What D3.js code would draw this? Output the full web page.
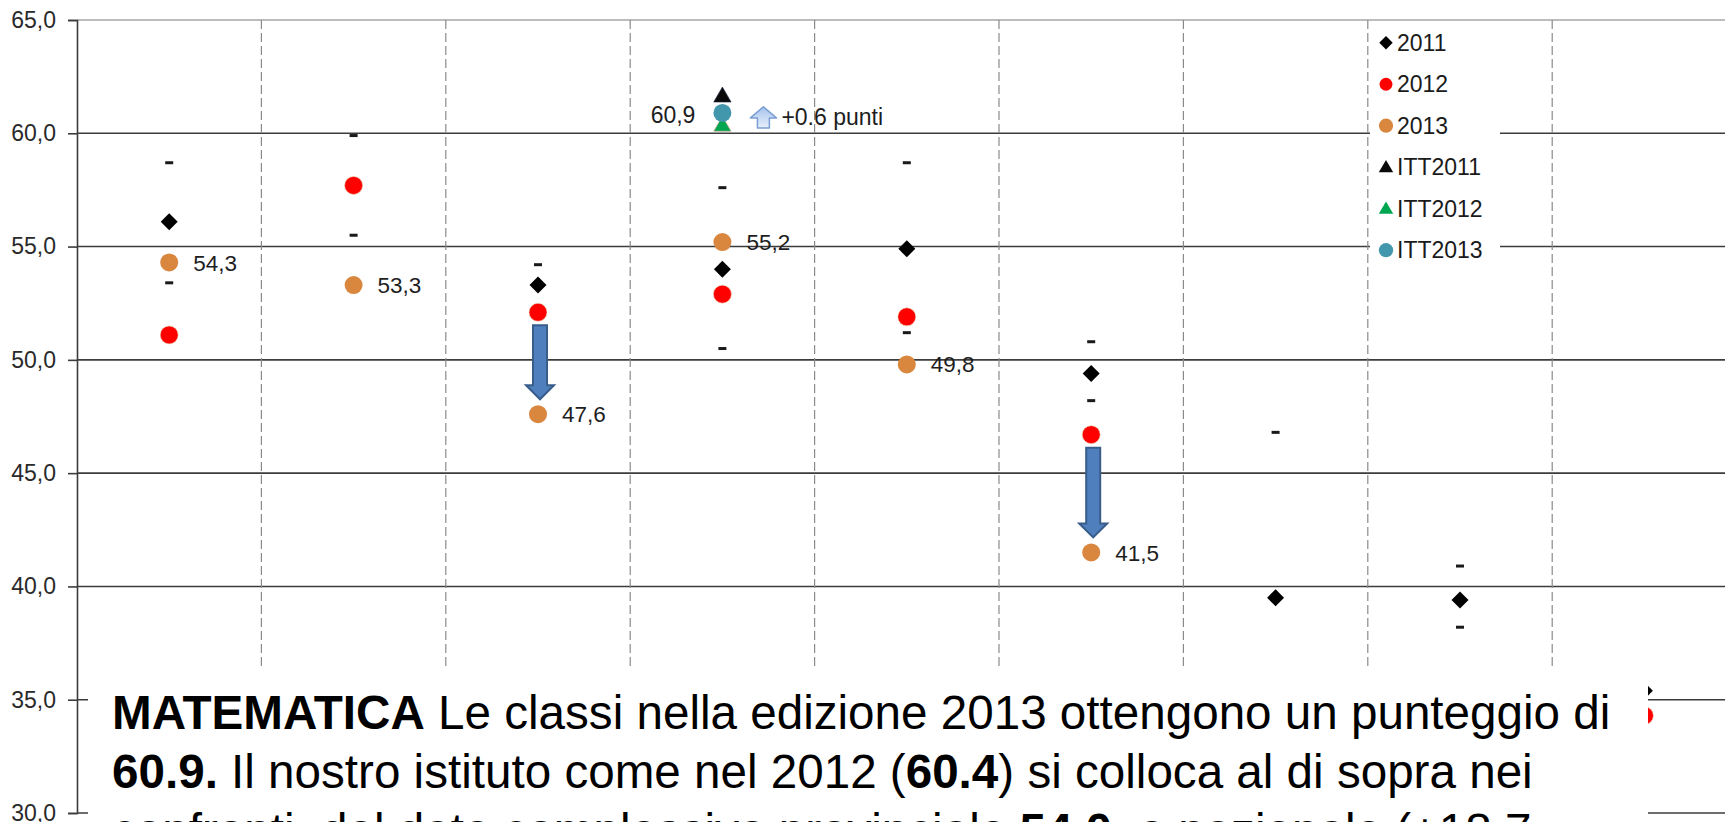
<!DOCTYPE html>
<html><head><meta charset="utf-8">
<script src="https://cdn.jsdelivr.net/npm/d3@7"></script>
<style>
html,body{margin:0;padding:0;background:#fff;}
svg{display:block;font-family:"Liberation Sans",Arial,sans-serif;}
</style></head><body>
<svg id="chart" width="1725" height="822"></svg>
<script>
// ---------- data ----------
const categories = ["1","2","3","4","5","6","7","8","9"];
const s2011   = [56.1, null, 53.3, 54.0, 54.9, 49.4, 39.5, 39.4, 35.4];
const s2012   = [51.1, 57.7, 52.1, 52.9, 51.9, 46.7, null, null, 34.3];
const s2013   = [54.3, 53.3, 47.6, 55.2, 49.8, 41.5, null, null, null];
const upper   = [58.7, 59.9, 54.2, 57.6, 58.7, 50.8, 46.8, 40.9, null];
const lower   = [53.4, 55.5, 52.4, 50.5, 51.2, 48.2, 32.2, 38.2, null];
const itt2011 = [null, null, null, 61.6, null, null, null, null, null];
const itt2012 = [null, null, null, 60.4, null, null, null, null, null];
const itt2013 = [null, null, null, 60.9, null, null, null, null, null];
const yTicks  = [30, 35, 40, 45, 50, 55, 60, 65];
const legendLabels = ["2011", "2012", "2013", "ITT2011", "ITT2012", "ITT2013"];
const dropCats = ["3", "6"];          // categories with a drop 2012 -> 2013
const gainCat = "4";                  // ITT category with gain
const gainText = "+0.6 punti";
const noteLines = [
  [{t:"MATEMATICA", b:true}, {t:" Le classi nella edizione 2013 ottengono un punteggio di", b:false}],
  [{t:"60.9.", b:true}, {t:" Il nostro istituto come nel 2012 (", b:false}, {t:"60.4", b:true}, {t:") si colloca al di sopra nei", b:false}],
  [{t:"confronti  del dato complessivo provinciale ", b:false}, {t:"54.0", b:true}, {t:"  e nazionale (+18.7", b:false}]
];

// ---------- styles ----------
const C = {
  s2011:"#000000", s2012:"#ff0000", s2013:"#d9863f",
  itt2011:"#0a0a0a", itt2012:"#00a650", itt2013:"#4397ad",
  grid:"#3c3c3c", dash:"#8a8a8a"
};

const svg = d3.select("#chart");
const W = 1725, H = 822;
const x = d3.scaleBand().domain(categories).range([77, 77 + 9 * 184.4]).padding(0);
const y = d3.scaleLinear().domain([30, 65]).range([813, 20]);
const cx = c => x(c) + x.bandwidth() / 2;
const fmt = v => v.toFixed(1).replace(".", ",");

// horizontal gridlines
svg.append("g").selectAll("line").data(yTicks).join("line")
  .attr("x1", 77).attr("x2", W)
  .attr("y1", d => y(d)).attr("y2", d => y(d))
  .attr("stroke", d => d === 65 ? "#a6a6a6" : C.grid)
  .attr("stroke-width", 1.6);

// vertical dashed separators
svg.append("g").selectAll("line").data(categories.slice(1)).join("line")
  .attr("x1", d => x(d)).attr("x2", d => x(d))
  .attr("y1", y(65)).attr("y2", y(30))
  .attr("stroke", C.dash).attr("stroke-width", 1.2)
  .attr("stroke-dasharray", "9,4");

// y axis
const yAxis = d3.axisLeft(y).tickValues(yTicks).tickSize(9).tickPadding(12).tickFormat(fmt);
const ga = svg.append("g").attr("transform", "translate(77,0)").call(yAxis);
ga.select(".domain").attr("stroke", C.grid).attr("stroke-width", 1.6);
ga.selectAll(".tick line").attr("stroke", C.grid).attr("stroke-width", 1.6);
ga.selectAll(".tick text").attr("font-size", 23).attr("fill", "#2a2a2a")
  .attr("font-family", "'Liberation Sans', Arial, sans-serif");

// helper to gather points
function pts(arr) {
  return categories.map((c, i) => ({c, v: arr[i]})).filter(d => d.v != null);
}
const gm = svg.append("g");

// confidence dashes
[upper, lower].forEach(arr => {
  gm.append("g").selectAll("rect").data(pts(arr)).join("rect")
    .attr("x", d => cx(d.c) - 4).attr("y", d => y(d.v) - 1.5)
    .attr("width", 8).attr("height", 3).attr("fill", "#1a1a1a");
});

const diamond = d3.symbol(d3.symbolSquare, 144)();
const triangle = d3.symbol(d3.symbolTriangle, 130)();

// 2011 diamonds
gm.append("g").selectAll("path").data(pts(s2011)).join("path")
  .attr("d", diamond)
  .attr("transform", d => `translate(${cx(d.c)},${y(d.v)}) rotate(45)`)
  .attr("fill", C.s2011);
// 2012 circles
gm.append("g").selectAll("circle").data(pts(s2012)).join("circle")
  .attr("cx", d => cx(d.c)).attr("cy", d => y(d.v)).attr("r", 9)
  .attr("fill", C.s2012).attr("stroke", "#e8d8b8").attr("stroke-width", 0.6);
// 2013 circles
gm.append("g").selectAll("circle").data(pts(s2013)).join("circle")
  .attr("cx", d => cx(d.c)).attr("cy", d => y(d.v)).attr("r", 9)
  .attr("fill", C.s2013);
// 2013 labels
gm.append("g").selectAll("text").data(pts(s2013)).join("text")
  .attr("x", d => cx(d.c) + 24).attr("y", d => y(d.v)).attr("dy", "0.36em")
  .attr("font-size", 22.5).attr("fill", "#1e1e1e").text(d => fmt(d.v));

// ITT markers
gm.append("g").selectAll("path").data(pts(itt2012)).join("path")
  .attr("d", triangle).attr("transform", d => `translate(${cx(d.c)},${y(d.v) + 2})`)
  .attr("fill", C.itt2012).attr("stroke", "#d8a090").attr("stroke-width", 0.6);
gm.append("g").selectAll("path").data(pts(itt2011)).join("path")
  .attr("d", triangle).attr("transform", d => `translate(${cx(d.c)},${y(d.v)})`)
  .attr("fill", C.itt2011).attr("stroke", "#1f2a4a").attr("stroke-width", 0.6);
gm.append("g").selectAll("circle").data(pts(itt2013)).join("circle")
  .attr("cx", d => cx(d.c)).attr("cy", d => y(d.v)).attr("r", 9)
  .attr("fill", C.itt2013);
gm.append("g").selectAll("text").data(pts(itt2013)).join("text")
  .attr("x", d => cx(d.c) - 27).attr("y", d => y(d.v) + 2).attr("dy", "0.36em")
  .attr("text-anchor", "end").attr("font-size", 23).attr("fill", "#1e1e1e")
  .text(d => fmt(d.v));

// drop arrows (2012 -> 2013)
function downArrow(xc, y0, y1, sw, hw, hh) {
  return `M${xc - sw/2},${y0} L${xc + sw/2},${y0} L${xc + sw/2},${y1 - hh} L${xc + hw/2},${y1 - hh} L${xc},${y1} L${xc - hw/2},${y1 - hh} L${xc - sw/2},${y1 - hh} Z`;
}
gm.append("g").selectAll("path").data(dropCats).join("path")
  .attr("d", c => {
    const i = categories.indexOf(c);
    return downArrow(cx(c) + 2, y(s2012[i]) + 13, y(s2013[i]) - 15, 14, 28, 14);
  })
  .attr("fill", "#4f7fbd").attr("stroke", "#385d8a").attr("stroke-width", 2);

// gain arrow (up) and text
const defs = svg.append("defs");
const lg = defs.append("linearGradient").attr("id", "upg").attr("x1", 0).attr("y1", 0).attr("x2", 0).attr("y2", 1);
lg.append("stop").attr("offset", "0%").attr("stop-color", "#a9c5ee");
lg.append("stop").attr("offset", "100%").attr("stop-color", "#e6eefb");
{
  const gi = categories.indexOf(gainCat);
  const xc = cx(gainCat) + 41, yt = y(itt2013[gi]) - 6, yb = y(itt2013[gi]) + 15;
  const sw = 12, hw = 26, hh = 11;
  const p = `M${xc},${yt} L${xc + hw/2},${yt + hh} L${xc + sw/2},${yt + hh} L${xc + sw/2},${yb} L${xc - sw/2},${yb} L${xc - sw/2},${yt + hh} L${xc - hw/2},${yt + hh} Z`;
  gm.append("path").attr("d", p).attr("fill", "url(#upg)").attr("stroke", "#7b9fd4").attr("stroke-width", 1.5)
    .attr("stroke-linejoin", "round");
  gm.append("text").attr("x", xc + 18).attr("y", y(itt2013[gi]) + 4).attr("dy", "0.36em")
    .attr("font-size", 23).attr("fill", "#1e1e1e").text(gainText);
}

// legend
const lgG = svg.append("g");
lgG.append("rect").attr("x", 1370).attr("y", 22).attr("width", 130).attr("height", 246).attr("fill", "#fff");
const legendColors = [C.s2011, C.s2012, C.s2013, C.itt2011, C.itt2012, C.itt2013];
const legendShapes = ["diamond", "circle", "circle", "triangle", "triangle", "circle"];
const li = lgG.selectAll("g").data(legendLabels).join("g")
  .attr("transform", (d, i) => `translate(1386,${42.7 + i * 41.5})`);
li.append("path")
  .attr("d", (d, i) => {
    const s = legendShapes[i];
    if (s === "diamond") return d3.symbol(d3.symbolSquare, 90)();
    if (s === "triangle") return d3.symbol(d3.symbolTriangle, 90)();
    return d3.symbol(d3.symbolCircle, i === 1 ? 130 : 160)();
  })
  .attr("transform", (d, i) => legendShapes[i] === "diamond" ? "rotate(45)" : (legendShapes[i] === "triangle" ? "translate(0,1)" : null))
  .attr("fill", (d, i) => legendColors[i]);
li.append("text").attr("x", 11).attr("dy", "0.36em").attr("font-size", 23)
  .attr("fill", "#1a1a1a").text(d => d);

// note box over the lower part
svg.append("rect").attr("x", 88).attr("y", 670).attr("width", 1560).attr("height", 160).attr("fill", "#fff");
const note = svg.append("g").attr("font-size", 47.6).attr("fill", "#000");
noteLines.forEach((line, k) => {
  const t = note.append("text").attr("x", 112).attr("y", 729 + k * 59).style("white-space", "pre");
  line.forEach(seg => t.append("tspan").attr("font-weight", seg.b ? "bold" : "normal").text(seg.t));
});
</script>
</body></html>
